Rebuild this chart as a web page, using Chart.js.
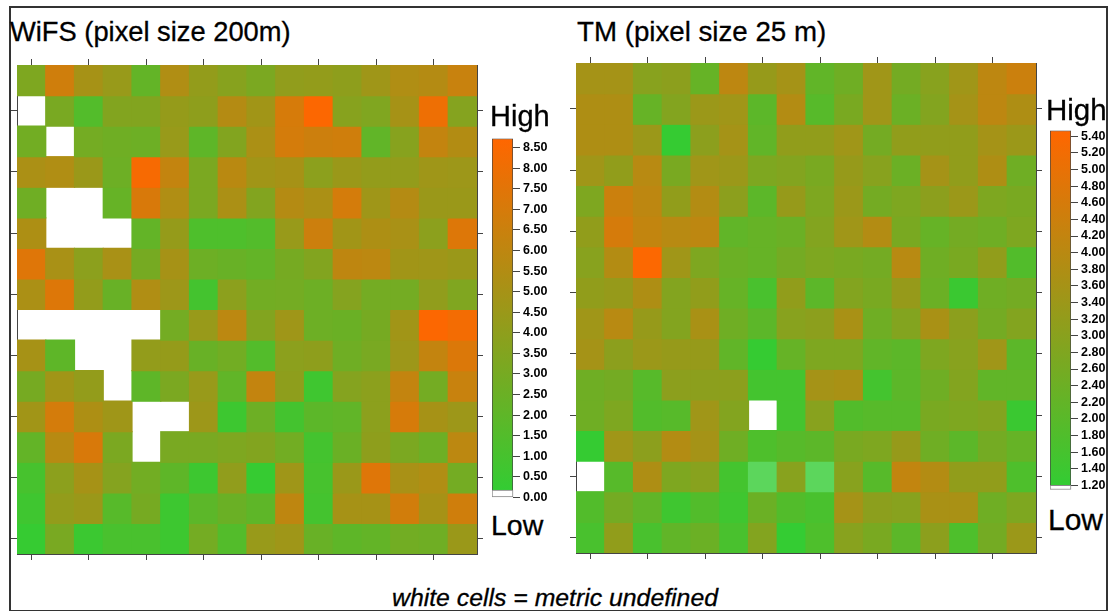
<!DOCTYPE html>
<html>
<head>
<meta charset="utf-8">
<title>WiFS / TM</title>
<script src="https://cdn.jsdelivr.net/npm/chart.js@4"></script>
<style>
body { margin: 0; background: #fff; font-family: "Liberation Sans", Arial, sans-serif; color: #000; }
#page { position: relative; width: 1113px; height: 612px; overflow: hidden; }
#frame { position: absolute; left: 9px; top: 6px; width: 1099px; height: 605px; box-sizing: border-box; border: 2px solid #333; border-bottom-width: 1px; }
canvas { position: absolute; }
.label { position: absolute; line-height: 1; white-space: nowrap; -webkit-text-stroke: 0.3px #000; }
</style>
</head>
<body>
<div id="page">
    <div id="frame"></div>
    <canvas id="wifs-map" width="472" height="501" style="left:11px;top:59px"></canvas>
    <canvas id="tm-map" width="472" height="502" style="left:570px;top:57px"></canvas>
    <canvas id="wifs-bar" width="56" height="380" style="left:492px;top:128px"></canvas>
    <canvas id="tm-bar" width="56" height="380" style="left:1050px;top:120px"></canvas>
    <div class="label" style="left:10px;top:18px;font-size:27.3px">WiFS (pixel size 200m)</div>
    <div class="label" style="left:577px;top:18px;font-size:27.7px">TM (pixel size 25 m)</div>
    <div class="label" style="left:490px;top:102px;font-size:29px">High</div>
    <div class="label" style="left:491px;top:511px;font-size:28.5px">Low</div>
    <div class="label" style="left:1046px;top:95px;font-size:29.5px">High</div>
    <div class="label" style="left:1048px;top:505px;font-size:30px">Low</div>
    <div class="label" style="left:392px;top:586px;font-size:24.8px;font-style:italic">white cells = metric undefined</div>
</div>
<script>
// Valeurs (null = cellule blanche)
const wifsCells = [
    [3.3, 6.7, 5.0, 4.4, 2.2, 5.4, 4.2, 3.7, 3.2, 4.1, 4.2, 4.0, 4.7, 5.4, 5.6, 6.4],
    [null, 3.1, 1.5, 3.5, 3.5, 4.3, 4.0, 5.6, 4.8, 7.0, 8.6, 3.7, 3.4, 5.0, 8.0, 3.6],
    [2.8, null, 2.9, 2.7, 2.6, 4.4, 2.0, 3.5, 5.2, 6.9, 6.6, 6.7, 2.1, 3.7, 6.2, 5.5],
    [5.2, 5.4, 4.5, 2.6, 8.4, 6.2, 3.2, 5.8, 4.8, 5.0, 3.9, 4.5, 4.2, 4.2, 4.7, 4.6],
    [2.7, null, null, 2.3, 7.1, 5.4, 3.2, 5.2, 3.5, 5.6, 5.2, 6.9, 4.7, 5.6, 4.5, 4.5],
    [5.3, null, null, null, 2.2, 4.3, 1.3, 1.3, 1.5, 4.4, 6.6, 4.8, 5.3, 5.1, 3.9, 7.3],
    [7.4, 5.1, 3.9, 5.1, 3.0, 5.0, 2.6, 2.4, 2.2, 3.0, 3.5, 6.0, 5.9, 4.8, 4.7, 4.5],
    [5.2, 7.3, 4.2, 2.4, 5.4, 4.6, 0.9, 3.9, 2.8, 2.9, 2.6, 3.6, 2.9, 2.9, 4.1, 3.4],
    [null, null, null, null, null, 2.9, 4.4, 5.9, 3.5, 4.7, 2.6, 2.5, 3.0, 4.8, 8.6, 8.2],
    [5.0, 2.0, null, null, 4.2, 4.3, 2.4, 2.8, 1.5, 3.9, 4.0, 2.7, 3.1, 4.6, 6.2, 7.2],
    [3.0, 4.8, 4.2, null, 2.0, 3.2, 4.4, 2.1, 6.2, 4.0, 0.7, 3.6, 3.9, 6.2, 2.9, 6.4],
    [4.8, 6.9, 5.3, 4.7, null, null, 4.6, 0.6, 2.6, 0.9, 1.9, 2.1, 3.9, 7.0, 5.0, 4.6],
    [2.2, 5.7, 7.1, 3.2, null, 3.1, 3.1, 3.3, 3.5, 2.8, 0.9, 2.5, 4.0, 3.2, 2.6, 5.9],
    [1.0, 3.9, 5.0, 3.6, 2.8, 2.0, 0.6, 4.1, 0.3, 4.7, 1.0, 4.5, 7.4, 5.1, 5.4, 2.9],
    [0.7, 4.2, 4.5, 1.7, 3.0, 0.6, 1.9, 2.5, 2.0, 6.0, 0.9, 5.0, 5.0, 6.8, 5.0, 6.7],
    [0.3, 3.1, 0.5, 1.1, 1.1, 0.6, 2.9, 1.5, 4.4, 4.7, 2.4, 2.0, 2.2, 2.8, 2.7, 4.5]
];

const tmCells = [
    [3.6, 3.6, 3.0, 3.1, 2.3, 4.1, 3.3, 3.6, 2.2, 2.5, 3.5, 2.6, 3.0, 3.5, 4.1, 4.4],
    [3.8, 3.8, 2.3, 2.9, 3.4, 3.5, 2.1, 3.9, 2.0, 2.7, 3.5, 2.4, 2.9, 3.6, 4.1, 3.8],
    [3.8, 3.8, 3.4, 1.3, 3.1, 3.6, 2.2, 3.2, 3.2, 3.5, 2.6, 3.2, 3.2, 3.2, 3.6, 3.4],
    [3.5, 3.2, 4.0, 2.7, 3.5, 3.4, 2.8, 2.9, 2.7, 3.3, 3.0, 2.4, 3.6, 3.2, 3.8, 2.5],
    [2.8, 4.4, 4.1, 3.2, 3.9, 3.1, 2.1, 3.3, 2.8, 3.4, 2.6, 2.8, 3.1, 3.4, 2.8, 2.7],
    [3.2, 4.6, 4.2, 4.0, 4.1, 2.2, 2.3, 2.4, 2.9, 3.5, 3.9, 2.7, 2.3, 2.6, 2.5, 2.8],
    [3.0, 3.9, 5.4, 3.5, 2.8, 2.4, 2.3, 2.6, 2.8, 2.7, 2.6, 4.0, 2.5, 2.7, 3.2, 1.9],
    [3.2, 3.3, 3.8, 2.9, 3.2, 2.3, 1.7, 3.2, 2.1, 2.9, 2.7, 3.3, 2.4, 1.4, 2.5, 2.6],
    [3.5, 4.0, 3.3, 2.9, 3.7, 2.5, 2.1, 3.0, 3.1, 3.7, 2.5, 2.9, 3.7, 3.1, 2.6, 2.9],
    [3.6, 3.1, 3.4, 3.3, 3.3, 2.2, 1.3, 2.3, 2.8, 2.8, 2.2, 2.1, 2.8, 3.0, 3.5, 2.1],
    [2.5, 2.6, 2.0, 3.1, 3.1, 3.1, 1.6, 1.6, 3.6, 3.7, 1.6, 2.1, 2.5, 2.9, 2.2, 2.2],
    [2.5, 2.8, 1.9, 2.0, 3.5, 2.9, null, 1.6, 3.0, 1.9, 2.0, 2.0, 2.7, 2.8, 2.9, 1.4],
    [1.3, 3.5, 3.1, 3.9, 3.6, 2.5, 1.8, 2.0, 2.1, 2.7, 2.8, 3.3, 2.5, 2.1, 2.6, 2.3],
    [null, 2.0, 3.8, 2.8, 3.0, 1.6, 1.2, 3.0, 1.2, 3.0, 2.0, 4.2, 3.9, 3.2, 3.2, 1.8],
    [1.9, 2.6, 2.2, 1.5, 1.9, 1.5, 2.4, 1.9, 1.7, 3.6, 3.1, 3.0, 3.7, 3.7, 2.5, 2.8],
    [1.7, 3.2, 1.7, 2.2, 2.4, 1.7, 2.9, 1.27, 1.8, 3.0, 2.7, 2.1, 3.1, 1.8, 2.6, 3.4]
];

const colLabels = ['1', '2', '3', '4', '5', '6', '7', '8', '9', '10', '11', '12', '13', '14', '15', '16'];
const colTicks = [0, 2, 4, 6, 8, 10, 12, 14];
const rowTicks = [1.5, 3.5, 5.5, 7.5, 9.5, 11.5, 13.5, 15.5];

const wifsBarTicks = [0, 0.5, 1, 1.5, 2, 2.5, 3, 3.5, 4, 4.5, 5, 5.5, 6, 6.5, 7, 7.5, 8, 8.5];
const tmBarTicks = [1.2, 1.4, 1.6, 1.8, 2, 2.2, 2.4, 2.6, 2.8, 3, 3.2, 3.4, 3.6, 3.8, 4, 4.2, 4.4, 4.6, 4.8, 5, 5.2, 5.4];

// bas de la barre, fin du blanc, début du dégradé, haut de la barre
const wifsRange = { bottom: 0, white: 0.18, low: 0.18, high: 8.72 };
const tmRange = { bottom: 1.15, white: 1.2, low: 1.25, high: 5.47 };

const LOW_COLOR = [51, 204, 51];
const HIGH_COLOR = [255, 102, 0];
const AXIS_COLOR = '#444';

function cellColor(v, range) {
    const t = Math.max(0, Math.min(1, (v - range.low) / (range.high - range.low)));
    let rgb = LOW_COLOR.map((c, i) => c + (HIGH_COLOR[i] - c) * t);
    // sous le bas de l'échelle la couleur tire vers le blanc
    if (v < range.low) {
        const mix = (range.low - v) / 0.25;
        rgb = rgb.map(c => c + (255 - c) * mix);
    }
    return `rgb(${rgb.map(Math.round).join(',')})`;
}

function frameAxis(position, extra) {
    return Object.assign({
        position,
        ticks: { display: false },
        grid: { drawOnChartArea: false, drawTicks: true, tickLength: 6, tickColor: AXIS_COLOR, offset: false },
        border: { display: true, color: AXIS_COLOR, width: 1 }
    }, extra);
}

function drawMap(id, cells, range) {
    const setColTicks = axis => { axis.ticks = colTicks.map(v => ({ value: v })); };
    const setRowTicks = axis => { axis.ticks = rowTicks.map(v => ({ value: v })); };

    new Chart(document.getElementById(id), {
        type: 'bar',
        data: {
            labels: colLabels,
            datasets: cells.map((row, r) => ({
                data: row.map(v => v === null ? null : [r, r + 1]),
                backgroundColor: row.map(v => v === null ? 'rgba(0,0,0,0)' : cellColor(v, range)),
                borderWidth: 0,
                inflateAmount: 0.6,
                grouped: false,
                barPercentage: 1,
                categoryPercentage: 1
            }))
        },
        options: {
            responsive: false,
            animation: false,
            layout: { padding: 0 },
            plugins: { legend: { display: false }, tooltip: { enabled: false } },
            scales: {
                x: frameAxis('bottom', { type: 'category', offset: true, afterBuildTicks: setColTicks }),
                x2: frameAxis('top', { type: 'category', offset: true, afterBuildTicks: setColTicks }),
                y: frameAxis('left', { type: 'linear', min: 0, max: 16, reverse: true, afterBuildTicks: setRowTicks }),
                y2: frameAxis('right', { type: 'linear', min: 0, max: 16, reverse: true, afterBuildTicks: setRowTicks })
            }
        }
    });
}

function drawColorBar(id, barTicks, range) {
    new Chart(document.getElementById(id), {
        type: 'bar',
        data: {
            labels: [''],
            datasets: [
                {
                    data: [[range.bottom, range.white]],
                    backgroundColor: '#fff',
                    borderColor: '#888',
                    borderSkipped: false,
                    borderWidth: 1,
                    clip: false,
                    grouped: false,
                    barPercentage: 1,
                    categoryPercentage: 1
                },
                {
                    data: [[range.white, range.high]],
                    backgroundColor: ctx => {
                        const scale = ctx.chart.scales.y;
                        if (!ctx.chart.chartArea || !scale) return 'rgb(51,204,51)';
                        const g = ctx.chart.ctx.createLinearGradient(0, scale.getPixelForValue(range.white), 0, scale.getPixelForValue(range.high));
                        g.addColorStop(0, cellColor(range.low, range));
                        g.addColorStop(1, cellColor(range.high, range));
                        return g;
                    },
                    borderColor: AXIS_COLOR,
                    borderSkipped: 'bottom',
                    borderWidth: 1,
                    grouped: false,
                    barPercentage: 1,
                    categoryPercentage: 1
                }
            ]
        },
        options: {
            responsive: false,
            animation: false,
            layout: { padding: { top: 10, bottom: 10 } },
            plugins: { legend: { display: false }, tooltip: { enabled: false } },
            scales: {
                x: { display: false },
                y: {
                    position: 'right',
                    min: range.bottom,
                    max: range.high,
                    afterBuildTicks: axis => { axis.ticks = barTicks.map(v => ({ value: v })); },
                    afterFit: axis => { axis.width = 35; },
                    ticks: {
                        autoSkip: false,
                        padding: 3,
                        color: '#000',
                        font: { family: '"Liberation Sans", Arial, sans-serif', size: 12.5, weight: 'bold' },
                        callback: v => v.toFixed(2)
                    },
                    grid: { drawOnChartArea: false, drawTicks: true, tickLength: 7, tickColor: AXIS_COLOR },
                    border: { display: false }
                }
            }
        }
    });
}

document.addEventListener('DOMContentLoaded', () => {
    drawMap('wifs-map', wifsCells, wifsRange);
    drawMap('tm-map', tmCells, tmRange);
    drawColorBar('wifs-bar', wifsBarTicks, wifsRange);
    drawColorBar('tm-bar', tmBarTicks, tmRange);
});
</script>
</body>
</html>
